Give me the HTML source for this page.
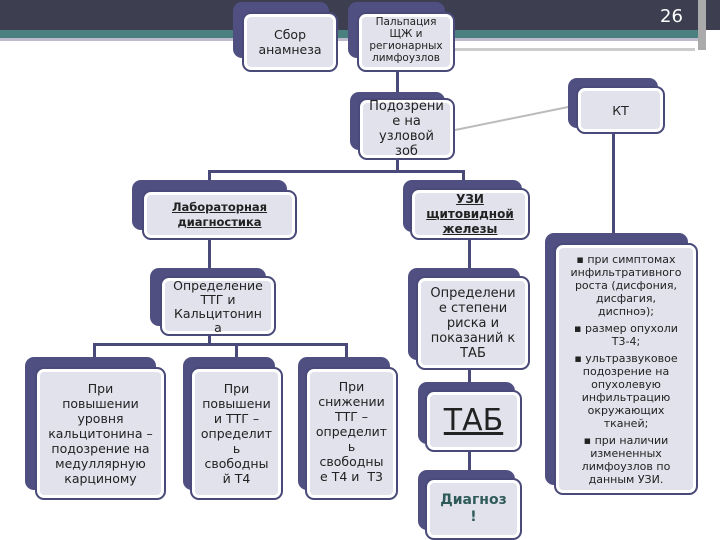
<!DOCTYPE html>
<html><head><meta charset="utf-8"><style>
body{margin:0;width:720px;height:540px;position:relative;overflow:hidden;background:#fff;font-family:"DejaVu Sans","Liberation Sans",sans-serif;}
.b{position:absolute;background:#4f4f82;border-radius:9px;}
.f{position:absolute;background:#e2e2ec;border:2px solid #4a4a7a;border-radius:9px;box-shadow:inset 0 0 0 3px #fff;box-sizing:border-box;display:flex;align-items:center;justify-content:center;text-align:center;color:#222;font-size:12.5px;line-height:15px;padding:2px;white-space:nowrap;}
.l{position:absolute;background:#4a4a7a;}
</style></head><body>
<div style="position:absolute;left:0;top:0;width:720px;height:30px;background:#3d3e50"></div>
<div style="position:absolute;left:0;top:30px;width:700px;height:8px;background:#4b8080"></div>
<div style="position:absolute;left:0;top:38px;width:700px;height:3px;background:#bbc"></div>
<div style="position:absolute;left:698px;top:0;width:8px;height:50px;background:#aaa"></div>
<div style="position:absolute;left:420px;top:48px;width:275px;height:3px;background:#ccc"></div>
<div style="position:absolute;left:660px;top:6px;color:#fff;font-size:18px">26</div>

<div class="l" style="left:396px;top:70px;width:3px;height:28px"></div>
<div class="l" style="left:396px;top:160px;width:3px;height:12px"></div>
<div class="l" style="left:208px;top:170px;width:256px;height:3px"></div>
<div class="l" style="left:208px;top:170px;width:3px;height:12px"></div>
<div class="l" style="left:462px;top:170px;width:3px;height:12px"></div>
<svg style="position:absolute;left:0;top:0" width="720" height="540"><line x1="455" y1="130" x2="578" y2="105" stroke="#bbb" stroke-width="2"/></svg>
<div class="l" style="left:612px;top:130px;width:3px;height:105px"></div>
<div class="l" style="left:208px;top:238px;width:3px;height:32px"></div>
<div class="l" style="left:468px;top:238px;width:3px;height:32px"></div>
<div class="l" style="left:93px;top:343px;width:253px;height:3px"></div>
<div class="l" style="left:208px;top:333px;width:3px;height:12px"></div>
<div class="l" style="left:93px;top:343px;width:3px;height:16px"></div>
<div class="l" style="left:235px;top:343px;width:3px;height:16px"></div>
<div class="l" style="left:345px;top:343px;width:3px;height:16px"></div>
<div class="l" style="left:468px;top:368px;width:3px;height:16px"></div>
<div class="l" style="left:468px;top:450px;width:3px;height:22px"></div>

<div class="b" style="left:233px;top:2px;width:96px;height:56px"></div>
<div class="f" style="left:242px;top:12px;width:96px;height:60px;font-size:12.5px">Сбор<br>анамнеза</div>
<div class="b" style="left:348px;top:2px;width:97px;height:56px"></div>
<div class="f" style="left:357px;top:12px;width:98px;height:60px;font-size:10.5px;line-height:12px;align-items:flex-start;padding-top:2px">Пальпация<br>ЩЖ и<br>регионарных<br>лимфоузлов</div>
<div class="b" style="left:350px;top:92px;width:95px;height:58px"></div>
<div class="f" style="left:358px;top:98px;width:97px;height:62px;font-size:13px;line-height:15px">Подозрени<br>е на<br>узловой<br>зоб</div>
<div class="b" style="left:568px;top:78px;width:90px;height:50px"></div>
<div class="f" style="left:576px;top:86px;width:89px;height:48px">КТ</div>
<div class="b" style="left:132px;top:180px;width:155px;height:50px"></div>
<div class="f" style="left:142px;top:190px;width:155px;height:50px;font-weight:bold;text-decoration:underline;font-size:11.5px">Лабораторная<br>диагностика</div>
<div class="b" style="left:403px;top:180px;width:119px;height:52px"></div>
<div class="f" style="left:410px;top:188px;width:120px;height:52px;font-weight:bold;text-decoration:underline;font-size:12px">УЗИ<br>щитовидной<br>железы</div>
<div class="b" style="left:150px;top:268px;width:116px;height:58px"></div>
<div class="f" style="left:160px;top:276px;width:116px;height:60px;align-items:flex-start;padding-top:1px;line-height:14px">Определение<br>ТТГ и<br>Кальцитонин<br>а</div>
<div class="b" style="left:408px;top:268px;width:112px;height:92px"></div>
<div class="f" style="left:416px;top:276px;width:114px;height:94px;font-size:13px">Определени<br>е степени<br>риска и<br>показаний к<br>ТАБ</div>
<div class="b" style="left:545px;top:233px;width:143px;height:252px"></div>
<div class="f" style="left:554px;top:243px;width:144px;height:252px;font-size:11px;line-height:13px;flex-direction:column">
<div>▪ при симптомах<br>инфильтративного<br>роста (дисфония,<br>дисфагия,<br>диспноэ);</div><div style="margin-top:4px">▪ размер опухоли<br>Т3-4;</div><div style="margin-top:4px">▪ ультразвуковое<br>подозрение на<br>опухолевую<br>инфильтрацию<br>окружающих<br>тканей;</div><div style="margin-top:4px">▪ при наличии<br>измененных<br>лимфоузлов по<br>данным УЗИ.</div></div>
<div class="b" style="left:25px;top:357px;width:131px;height:133px"></div>
<div class="f" style="left:35px;top:367px;width:131px;height:133px;font-size:12.5px;line-height:15px">При<br>повышении<br>уровня<br>кальцитонина –<br>подозрение на<br>медуллярную<br>карциному</div>
<div class="b" style="left:183px;top:357px;width:92px;height:133px"></div>
<div class="f" style="left:190px;top:367px;width:93px;height:133px;font-size:12.5px">При<br>повышени<br>и ТТГ –<br>определит<br>ь<br>свободны<br>й Т4</div>
<div class="b" style="left:298px;top:357px;width:92px;height:133px"></div>
<div class="f" style="left:305px;top:367px;width:93px;height:133px;align-items:flex-start;padding-top:10px;font-size:12.5px">При<br>снижении<br>ТТГ –<br>определит<br>ь<br>свободны<br>е Т4 и &nbsp;Т3</div>
<div class="b" style="left:418px;top:382px;width:97px;height:62px"></div>
<div class="f" style="left:425px;top:390px;width:97px;height:62px;font-size:30px;line-height:34px;text-decoration:underline">ТАБ</div>
<div class="b" style="left:418px;top:470px;width:97px;height:60px"></div>
<div class="f" style="left:425px;top:478px;width:97px;height:62px;font-weight:bold;color:#2e5a5a;font-size:14px;line-height:17px">Диагноз<br>!</div>
</body></html>
